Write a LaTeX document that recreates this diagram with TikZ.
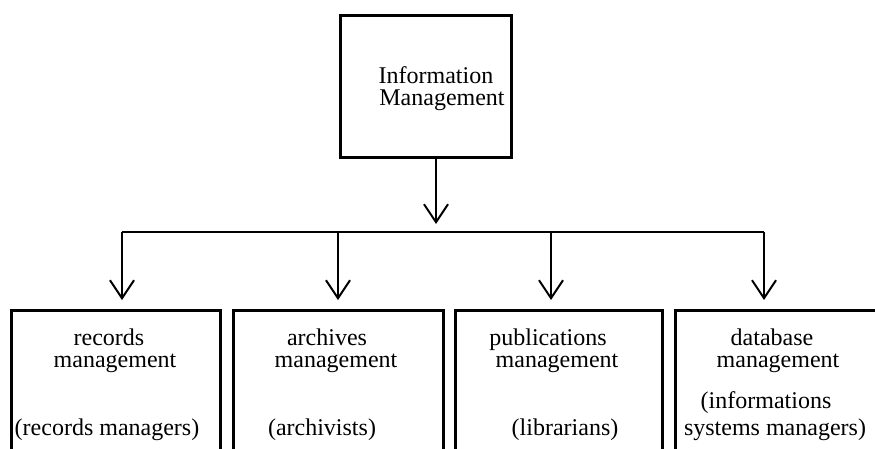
\documentclass[tikz,border=0pt]{standalone}
\usepackage{fontspec}
\setmainfont{Liberation Serif}
\usetikzlibrary{arrows.meta}
\begin{document}
\begin{tikzpicture}[x=1pt,y=-1pt,
  box/.style={draw, line width=2.6pt, inner sep=0pt, anchor=north west},
  lbl/.style={inner sep=0pt, anchor=base, font=\fontsize{24}{22.5}\selectfont},
  link/.style={line width=2pt, -{Straight Barb[length=18pt,width=24pt,line width=2pt]}}]
\useasboundingbox (0,0) rectangle (875,448);
% top unit
\node[box, minimum width=171pt, minimum height=142pt] (top) at (339,14) {};
\node[lbl] (topA) at (436,83) {Information};
\node[lbl] (topB) at (442,105) {Management};
% the four sub-units (open at the bottom, cut by the page edge)
\node[box, minimum width=209pt, minimum height=170pt] (rec) at (10,309) {};
\node[box, minimum width=210pt, minimum height=170pt] (arc) at (232,309) {};
\node[box, minimum width=207pt, minimum height=170pt] (pub) at (454,309) {};
\node[box, minimum width=216pt, minimum height=170pt] (dbm) at (674,309) {};
% labels
\node[lbl] (recA) at (109,345) {records};
\node[lbl] (recB) at (115,367) {management};
\node[lbl] (recC) at (107,435) {(records managers)};
\node[lbl] (arcA) at (327,345) {archives};
\node[lbl] (arcB) at (336,367) {management};
\node[lbl] (arcC) at (322,435) {(archivists)};
\node[lbl] (pubA) at (548,345) {publications};
\node[lbl] (pubB) at (557,367) {management};
\node[lbl] (pubC) at (565,435) {(librarians)};
\node[lbl] (dbmA) at (772,345) {database};
\node[lbl] (dbmB) at (778,367) {management};
\node[lbl] (dbmC) at (766,408) {(informations};
\node[lbl] (dbmD) at (775,435) {systems managers)};
% distribution bar
\coordinate (bar) at (436,232);
\coordinate (barL) at (122,232);
\coordinate (barR) at (764,232);
\coordinate (drop2) at (338,232);
\coordinate (drop3) at (551,232);
\draw[line width=2pt] (barL) -- (barR);
\draw[link] (top.south -| bar) -- ([yshift=8pt]bar);
\draw[link] (barL) -- ([yshift=9pt]barL |- rec.north);
\draw[link] (drop2) -- ([yshift=9pt]drop2 |- arc.north);
\draw[link] (drop3) -- ([yshift=9pt]drop3 |- pub.north);
\draw[link] (barR) -- ([yshift=9pt]barR |- dbm.north);
\end{tikzpicture}
\end{document}
